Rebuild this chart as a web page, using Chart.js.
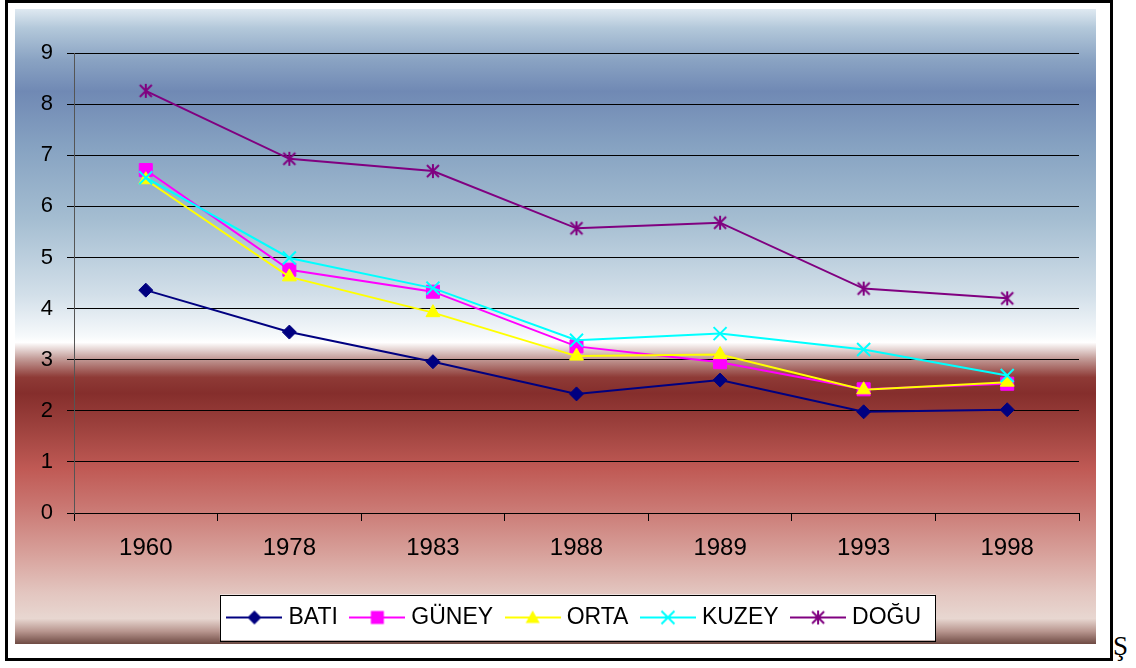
<!DOCTYPE html>
<html>
<head>
<meta charset="utf-8">
<script src="https://cdn.jsdelivr.net/npm/chart.js@4.4.1/dist/chart.umd.min.js"></script>
<style>
html,body{margin:0;padding:0;background:#fff;width:1136px;height:668px;overflow:hidden;}
#frame{position:absolute;left:5px;top:0;width:1102px;height:655px;border:3px solid #000;}
#bg{position:absolute;left:15px;top:9px;width:1081px;height:635px;
 background:linear-gradient(to bottom,
  #dfe9f1 0%, #b3c8da 3%, #8aa3c3 8%, #7089b4 13%, #87a3c2 22%, #a4bdd1 33%,
  #d2dfe9 45%, #f6f9fb 51.5%, #ffffff 52.5%, #c49e9a 55%, #8e3a36 58%, #852e2c 60.5%,
  #9e423e 66%, #c05a55 72.5%, #c97570 78%, #d8a29c 86%, #e3c6c0 92%, #e8d7d1 96%,
  #b8968f 98%, #6e4a43 100%);}
#wrap{position:absolute;left:15px;top:9px;width:1081px;height:640px;}
#sch{position:absolute;left:1113px;top:633px;font-family:'Liberation Serif','Times New Roman',serif;font-size:27px;line-height:27px;color:#000;}
</style>
</head>
<body>
<div id="frame"></div>
<div id="bg"></div>
<div id="wrap"><canvas id="c" width="1081" height="640"></canvas></div>
<div id="sch">Ş</div>
<script>
// ---- data ----
const categories = ['1960', '1978', '1983', '1988', '1989', '1993', '1998'];
const seriesNames = ['BATI', 'GÜNEY', 'ORTA', 'KUZEY', 'DOĞU'];
const bati  = [4.36, 3.54, 2.96, 2.33, 2.60, 1.98, 2.02];
const guney = [6.71, 4.76, 4.33, 3.26, 2.95, 2.42, 2.53];
const orta  = [6.52, 4.62, 3.92, 3.07, 3.10, 2.41, 2.56];
const kuzey = [6.56, 4.99, 4.40, 3.38, 3.51, 3.20, 2.69];
const dogu  = [8.26, 6.93, 6.69, 5.57, 5.68, 4.39, 4.20];
const yMin = 0, yMax = 9, yStep = 1;

const FONT = "'Liberation Sans', Arial, Helvetica, sans-serif";
const colors = ['#000080', '#FF00FF', '#FFFF00', '#00FFFF', '#800080'];

function makeAsterisk(color) {
  const c = document.createElement('canvas');
  c.width = 16; c.height = 16;
  const g = c.getContext('2d');
  g.strokeStyle = color; g.lineWidth = 2;
  g.beginPath();
  g.moveTo(8, 1); g.lineTo(8, 15);
  g.moveTo(2, 2); g.lineTo(14, 14);
  g.moveTo(14, 2); g.lineTo(2, 14);
  g.stroke();
  return c;
}
const asteriskImg = makeAsterisk(colors[4]);

function drawMarker(g, kind, color, x, y) {
  g.fillStyle = color; g.strokeStyle = color;
  g.beginPath();
  if (kind === 'diamond') {
    g.moveTo(x - 7, y); g.lineTo(x, y - 7); g.lineTo(x + 7, y); g.lineTo(x, y + 7); g.closePath(); g.fill();
  } else if (kind === 'square') {
    g.fillRect(x - 6.5, y - 6.5, 13, 13);
  } else if (kind === 'triangle') {
    g.moveTo(x, y - 7); g.lineTo(x + 7, y + 5.5); g.lineTo(x - 7, y + 5.5); g.closePath(); g.fill();
  } else if (kind === 'cross') {
    g.lineWidth = 2;
    g.moveTo(x - 6.5, y - 6.5); g.lineTo(x + 6.5, y + 6.5);
    g.moveTo(x + 6.5, y - 6.5); g.lineTo(x - 6.5, y + 6.5); g.stroke();
  } else if (kind === 'asterisk') {
    g.drawImage(asteriskImg, x - 8, y - 8);
  }
}
function makeLegendImg(color, kind) {
  const c = document.createElement('canvas');
  c.width = 56; c.height = 20;
  const g = c.getContext('2d');
  g.strokeStyle = color; g.lineWidth = 2;
  g.beginPath(); g.moveTo(0, 10); g.lineTo(56, 10); g.stroke();
  drawMarker(g, kind, color, 28, 10);
  return c;
}
const kinds = ['diamond', 'square', 'triangle', 'cross', 'asterisk'];
const legendImgs = kinds.map((k, i) => makeLegendImg(colors[i], k));

function mkDs(label, data, i, extra) {
  return Object.assign({
    label: label, data: data,
    borderColor: colors[i], backgroundColor: colors[i],
    borderWidth: 2, tension: 0, fill: false,
    pointBackgroundColor: colors[i], pointBorderColor: colors[i],
    pointBorderWidth: 1, pointHoverRadius: 0, order: 5 - i
  }, extra);
}

const legendBox = {
  id: 'legendBox',
  beforeDraw(chart) {
    const lg = chart.legend;
    if (!lg || !lg.legendHitBoxes || !lg.legendHitBoxes.length) return;
    const hb = lg.legendHitBoxes;
    const first = hb[0], last = hb[hb.length - 1];
    const cy = first.top + first.height / 2;
    const left = first.left - 12, right = last.left + last.width + 14;
    const ctx = chart.ctx;
    ctx.save();
    ctx.fillStyle = '#fff';
    ctx.strokeStyle = '#000';
    ctx.lineWidth = 1;
    ctx.fillRect(left, cy - 23, right - left, 46);
    ctx.strokeRect(Math.round(left) + 0.5, Math.round(cy - 23) + 0.5, Math.round(right - left), 46);
    ctx.restore();
  }
};

new Chart(document.getElementById('c'), {
  type: 'line',
  data: {
    labels: categories,
    datasets: [
      mkDs(seriesNames[0], bati, 0, {pointStyle: 'rectRot', pointRadius: 7}),
      mkDs(seriesNames[1], guney, 1, {pointStyle: 'rect', pointRadius: 9.2}),
      mkDs(seriesNames[2], orta, 2, {pointStyle: 'triangle', pointRadius: 8}),
      mkDs(seriesNames[3], kuzey, 3, {pointStyle: 'crossRot', pointRadius: 9.2, pointBorderWidth: 2}),
      mkDs(seriesNames[4], dogu, 4, {pointStyle: asteriskImg, pointRadius: 8})
    ]
  },
  options: {
    responsive: false,
    animation: false,
    events: [],
    layout: {padding: {left: 0, top: 44, right: 17, bottom: 10}},
    plugins: {
      tooltip: {enabled: false},
      legend: {
        position: 'bottom',
        fullSize: false,
        labels: {
          usePointStyle: true,
          pointStyleWidth: 45,
          padding: 17,
          color: '#000',
          font: {family: FONT, size: 23},
          generateLabels: (chart) => chart.data.datasets.map((ds, i) => ({
            text: ds.label, pointStyle: legendImgs[i],
            fillStyle: ds.borderColor, strokeStyle: ds.borderColor,
            lineWidth: 0, hidden: false, datasetIndex: i, fontColor: '#000'
          }))
        }
      }
    },
    scales: {
      x: {
        offset: true,
        afterFit: (s) => { s.height = 76; },
        grid: {drawOnChartArea: false, drawTicks: true, tickLength: 8, color: '#000', offset: true},
        border: {color: '#000', width: 1},
        ticks: {color: '#000', font: {family: FONT, size: 24}, padding: 13, maxRotation: 0}
      },
      y: {
        min: yMin, max: yMax,
        afterFit: (s) => { s.width = 59; },
        grid: {color: '#000', lineWidth: 1, drawTicks: true, tickLength: 7},
        border: {color: '#555', width: 1},
        ticks: {stepSize: yStep, color: '#000', font: {family: FONT, size: 22}, padding: 14}
      }
    }
  },
  plugins: [legendBox]
});
</script>
</body>
</html>
